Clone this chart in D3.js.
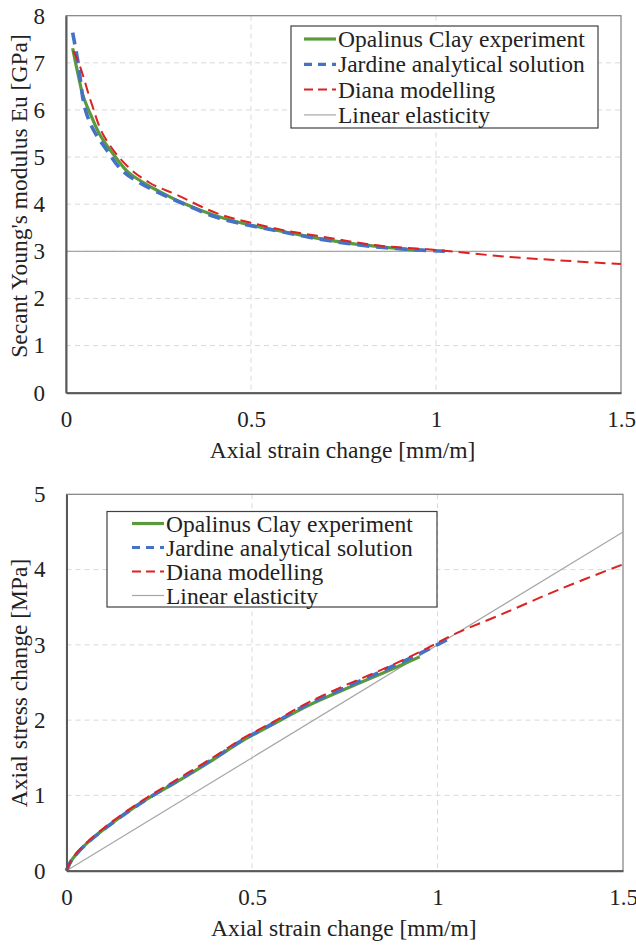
<!DOCTYPE html>
<html>
<head>
<meta charset="utf-8">
<script src="https://cdn.jsdelivr.net/npm/d3@7"></script>
<style>
  body { margin: 0; background: #fff; }
  svg text { font-family: "Liberation Serif", "Times New Roman", serif; fill: #222; }
</style>
</head>
<body>
<div id="chart"></div>
<script>
// ---- data ----
const xTicks = [0, 0.5, 1, 1.5];
const xTickLabels = ["0", "0.5", "1", "1.5"];
const topYTicks = [0, 1, 2, 3, 4, 5, 6, 7, 8];
const bottomYTicks = [0, 1, 2, 3, 4, 5];

const seriesNames = ["Opalinus Clay experiment", "Jardine analytical solution", "Diana modelling", "Linear elasticity"];

// secant modulus vs axial strain  [strain, GPa]
const modulusExperiment = [[0.018, 7.31], [0.03, 6.85], [0.047, 6.28], [0.069, 5.86], [0.092, 5.47], [0.128, 5.06],
  [0.168, 4.68], [0.209, 4.46], [0.25, 4.28], [0.317, 4.02], [0.407, 3.75], [0.497, 3.56], [0.587, 3.42],
  [0.678, 3.28], [0.768, 3.17], [0.858, 3.09], [0.95, 3.02]];
const modulusJardine = [[0.018, 7.64], [0.033, 6.99], [0.051, 6.04], [0.074, 5.58], [0.11, 5.15], [0.15, 4.73],
  [0.2, 4.45], [0.263, 4.2], [0.326, 3.98], [0.407, 3.72], [0.497, 3.55], [0.587, 3.41], [0.678, 3.27],
  [0.768, 3.16], [0.858, 3.08], [0.95, 3.03], [1.024, 3.0]];
const modulusDiana = [[0.02, 7.25], [0.038, 6.92], [0.069, 6.14], [0.101, 5.47], [0.164, 4.82], [0.227, 4.45],
  [0.299, 4.2], [0.407, 3.81], [0.497, 3.61], [0.587, 3.45], [0.678, 3.33], [0.768, 3.21], [0.858, 3.11],
  [0.948, 3.06], [1.038, 3.0], [1.2, 2.88], [1.35, 2.8], [1.5, 2.73]];
const modulusLinear = [[0, 3], [1.5, 3]];

// axial stress vs axial strain  [strain, MPa]
const stressExperiment = [[0, 0], [0.009, 0.1], [0.018, 0.17], [0.054, 0.36], [0.117, 0.61], [0.207, 0.92], [0.297, 1.18],
  [0.387, 1.45], [0.476, 1.73], [0.566, 1.97], [0.65, 2.19], [0.75, 2.41], [0.85, 2.62], [0.952, 2.84]];
const stressJardine = [[0, 0], [0.009, 0.1], [0.018, 0.17], [0.054, 0.36], [0.117, 0.61], [0.207, 0.92], [0.297, 1.19],
  [0.387, 1.46], [0.476, 1.74], [0.566, 1.98], [0.65, 2.21], [0.75, 2.43], [0.85, 2.65], [0.95, 2.88], [1.03, 3.08]];
const stressDiana = [[0, 0], [0.009, 0.1], [0.018, 0.18], [0.054, 0.37], [0.117, 0.63], [0.207, 0.94], [0.297, 1.21],
  [0.387, 1.48], [0.476, 1.76], [0.566, 2.0], [0.65, 2.23], [0.75, 2.46], [0.85, 2.67], [0.95, 2.9],
  [1.04, 3.13], [1.17, 3.4], [1.33, 3.74], [1.5, 4.07]];
const stressLinear = [[0, 0], [1.5, 4.5]];

// ---- styles ----
const styles = [
  { color: "#5a9a3c", width: 3.2, dash: null },
  { color: "#4472c4", width: 3.6, dash: "12,7" },
  { color: "#dc2222", width: 2, dash: "11,6" },
  { color: "#a6a6a6", width: 1.2, dash: null }
];

const width = 636;
const height = 945;
const svg = d3.select("#chart").append("svg")
  .attr("width", width)
  .attr("height", height);
svg.append("rect").attr("width", width).attr("height", height).attr("fill", "#fff");

function drawPanel(cfg) {
  const x = d3.scaleLinear().domain([0, 1.5]).range([cfg.left, cfg.right]);
  const y = d3.scaleLinear().domain([0, cfg.yMax]).range([cfg.bottom, cfg.top]);
  const g = svg.append("g");

  // gridlines
  g.selectAll(".hgrid").data(cfg.yTicks.filter(d => d > 0 && d < cfg.yMax)).enter()
    .append("line")
    .attr("x1", cfg.left).attr("x2", cfg.right)
    .attr("y1", d => y(d)).attr("y2", d => y(d))
    .attr("stroke", "#d9d9d9").attr("stroke-width", 1).attr("stroke-dasharray", "5,4");
  g.selectAll(".vgrid").data([0.5, 1]).enter()
    .append("line")
    .attr("x1", d => x(d)).attr("x2", d => x(d))
    .attr("y1", cfg.top).attr("y2", cfg.bottom)
    .attr("stroke", "#d9d9d9").attr("stroke-width", 1).attr("stroke-dasharray", "5,4");

  // plot frame
  g.append("rect")
    .attr("x", cfg.left).attr("y", cfg.top)
    .attr("width", cfg.right - cfg.left).attr("height", cfg.bottom - cfg.top)
    .attr("fill", "none").attr("stroke", "#7f7f7f").attr("stroke-width", 1.2);

  // series
  const line = d3.line().x(d => x(d[0])).y(d => y(d[1])).curve(d3.curveCatmullRom.alpha(0.5));
  const order = [3, 0, 1, 2];
  order.forEach(i => {
    g.append("path")
      .datum(cfg.series[i])
      .attr("d", line)
      .attr("fill", "none")
      .attr("stroke", styles[i].color)
      .attr("stroke-width", styles[i].width)
      .attr("stroke-dasharray", styles[i].dash);
  });

  // axes
  const xAxis = d3.axisBottom(x).tickValues(xTicks).tickFormat((d, i) => xTickLabels[i]).tickSize(0).tickPadding(18);
  const yAxis = d3.axisLeft(y).tickValues(cfg.yTicks).tickFormat(d3.format("d")).tickSize(0).tickPadding(21);
  const xg = g.append("g").attr("transform", `translate(0, ${cfg.bottom})`).call(xAxis);
  const yg = g.append("g").attr("transform", `translate(${cfg.left}, 0)`).call(yAxis);
  [xg, yg].forEach(a => {
    a.select(".domain").attr("stroke", "#595959").attr("stroke-width", 2);
    a.selectAll("text").style("font-size", "23px").attr("fill", "#222");
  });

  // axis titles
  g.append("text")
    .attr("x", (cfg.left + cfg.right) / 2 - 1)
    .attr("y", cfg.bottom + 65)
    .attr("text-anchor", "middle")
    .style("font-size", "23.5px")
    .text("Axial strain change [mm/m]");
  g.append("text")
    .attr("transform", `translate(27, ${cfg.yTitleCenter}) rotate(-90)`)
    .attr("text-anchor", "middle")
    .style("font-size", "23.5px")
    .text(cfg.yTitle);

  // legend
  const L = cfg.legend;
  const lg = g.append("g").attr("transform", `translate(${L.x}, ${L.y})`);
  lg.append("rect")
    .attr("width", L.w).attr("height", L.h)
    .attr("fill", "#fff").attr("stroke", "#404040").attr("stroke-width", 1.2);
  seriesNames.forEach((name, i) => {
    const cy = L.first + i * L.step;
    lg.append("line")
      .attr("x1", L.sample).attr("x2", L.sample + 32).attr("y1", cy).attr("y2", cy)
      .attr("stroke", styles[i].color)
      .attr("stroke-width", Math.min(styles[i].width, 3.2))
      .attr("stroke-dasharray", i === 1 ? "8,6" : (i === 2 ? "9,5" : null));
    lg.append("text")
      .attr("x", L.sample + 34).attr("y", cy + 8)
      .style("font-size", "23.5px")
      .text(name);
  });
}

drawPanel({
  left: 66, right: 621, top: 15.7, bottom: 392.7, yMax: 8,
  yTicks: topYTicks,
  series: [modulusExperiment, modulusJardine, modulusDiana, modulusLinear],
  yTitle: "Secant Young's modulus Eu [GPa]",
  yTitleCenter: 196,
  legend: { x: 291, y: 26, w: 307, h: 102, sample: 13, first: 13, step: 25.3 }
});

drawPanel({
  left: 66.5, right: 623, top: 494.3, bottom: 870.7, yMax: 5,
  yTicks: bottomYTicks,
  series: [stressExperiment, stressJardine, stressDiana, stressLinear],
  yTitle: "Axial stress change [MPa]",
  yTitleCenter: 683,
  legend: { x: 107, y: 511.5, w: 330, h: 95.5, sample: 25, first: 12, step: 24 }
});
</script>
</body>
</html>
